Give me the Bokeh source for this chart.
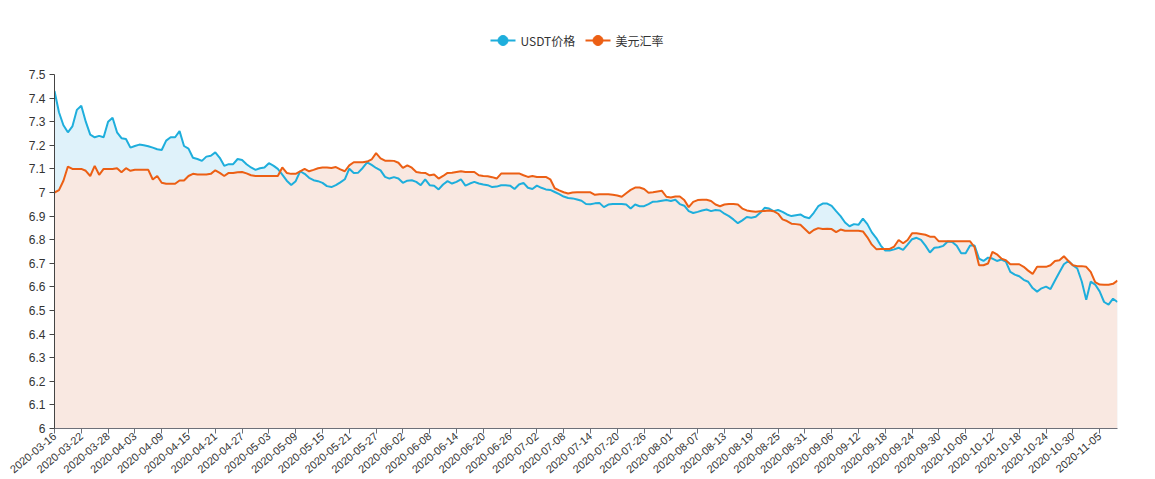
import pandas as pd
from bokeh.plotting import figure
from bokeh.layouts import column
from bokeh.models import (Range1d, FixedTicker, NumeralTickFormatter, ColumnDataSource,
                          CustomJSTickFormatter)
from bokeh.core.properties import value
from bokeh.embed import file_html
from bokeh.resources import INLINE

# ---------------- data ----------------
dates = pd.date_range("2020-03-16", periods=239).strftime("%Y-%m-%d").tolist()

series_names = ["USDT价格", "美元汇率"]

usdt = [
    7.43, 7.34, 7.285, 7.255, 7.28, 7.35, 7.368, 7.30, 7.245, 7.234,
    7.24, 7.234, 7.30, 7.317, 7.255, 7.23, 7.227, 7.19, 7.197, 7.203,
    7.20, 7.196, 7.19, 7.183, 7.18, 7.22, 7.234, 7.234, 7.26, 7.197,
    7.186, 7.147, 7.142, 7.134, 7.152, 7.156, 7.17, 7.147, 7.113, 7.12,
    7.12, 7.142, 7.138, 7.12, 7.106, 7.096, 7.103, 7.106, 7.124, 7.114,
    7.10, 7.076, 7.05, 7.032, 7.048, 7.09, 7.079, 7.062, 7.052, 7.048,
    7.041, 7.027,
    7.023, 7.031, 7.043, 7.056, 7.101, 7.083, 7.084, 7.104,
    7.128, 7.117, 7.104, 7.094, 7.066, 7.059, 7.065, 7.059, 7.041, 7.05,
    7.052, 7.045, 7.031, 7.056, 7.031, 7.029, 7.013, 7.034, 7.048, 7.038,
    7.045, 7.056, 7.029, 7.038, 7.045, 7.038, 7.034, 7.031, 7.023, 7.025,
    7.031, 7.031, 7.029, 7.015, 7.034, 7.041, 7.02, 7.015, 7.029, 7.02,
    7.013, 7.011, 7.002, 6.993, 6.983, 6.977, 6.975, 6.97, 6.965, 6.951,
    6.95, 6.954,
    6.956, 6.938, 6.949, 6.951, 6.951, 6.951, 6.949, 6.932,
    6.949, 6.942, 6.942, 6.951, 6.961, 6.962, 6.965, 6.968, 6.964, 6.969,
    6.951, 6.944, 6.921, 6.913, 6.918, 6.924, 6.928, 6.921, 6.926, 6.924,
    6.91, 6.9, 6.886, 6.87, 6.882, 6.896, 6.893, 6.897, 6.914, 6.935,
    6.932, 6.921, 6.926, 6.918, 6.907, 6.9, 6.904, 6.907, 6.896, 6.891,
    6.914, 6.942, 6.953, 6.953, 6.943, 6.921, 6.9, 6.873, 6.857, 6.866,
    6.863, 6.889, 6.866,
    6.831, 6.807, 6.775, 6.754, 6.754, 6.759, 6.766,
    6.757, 6.779, 6.802, 6.808, 6.799, 6.775, 6.746, 6.766, 6.768, 6.774,
    6.792, 6.79, 6.774, 6.743, 6.743, 6.775, 6.775, 6.72, 6.71, 6.724,
    6.72, 6.71, 6.716, 6.707, 6.664, 6.652, 6.645, 6.63, 6.622, 6.595,
    6.58, 6.594, 6.601, 6.591, 6.627, 6.662, 6.696, 6.71, 6.692, 6.678,
    6.623, 6.545, 6.622, 6.61, 6.581, 6.536, 6.525, 6.55, 6.536,
]

usd = [
    7.0, 7.01, 7.05, 7.11, 7.10, 7.10, 7.10, 7.092, 7.07, 7.113,
    7.075, 7.10, 7.10, 7.10, 7.103, 7.086, 7.103, 7.092, 7.096, 7.096,
    7.096, 7.096, 7.055, 7.07, 7.041, 7.037, 7.037, 7.037, 7.051, 7.051,
    7.07, 7.079, 7.076, 7.076, 7.076, 7.079, 7.094, 7.083, 7.07, 7.083,
    7.083, 7.086, 7.087, 7.081, 7.073, 7.07, 7.07, 7.07, 7.07, 7.07,
    7.07, 7.106, 7.083, 7.079, 7.079, 7.09, 7.10, 7.09, 7.096, 7.103,
    7.106, 7.106,
    7.104, 7.108, 7.098, 7.09, 7.115, 7.128, 7.128, 7.128,
    7.131, 7.14, 7.167, 7.145, 7.135, 7.135, 7.134, 7.126, 7.104, 7.115,
    7.105, 7.087, 7.084, 7.083, 7.073, 7.076, 7.059, 7.07, 7.083, 7.084,
    7.087, 7.09, 7.087, 7.087, 7.087, 7.073, 7.07, 7.069, 7.065, 7.059,
    7.08, 7.08, 7.08, 7.08, 7.081, 7.073, 7.066, 7.07, 7.066, 7.066,
    7.066, 7.056, 7.018, 7.009, 7.001, 6.996, 7.0, 7.001, 7.001, 7.001,
    7.001, 6.99,
    6.993, 6.993, 6.993, 6.99, 6.987, 6.982, 6.997, 7.011,
    7.021, 7.021, 7.015, 6.999, 7.001, 7.004, 7.007, 6.982, 6.979, 6.983,
    6.983, 6.968, 6.938, 6.96, 6.968, 6.969, 6.969, 6.964, 6.949, 6.942,
    6.949, 6.951, 6.951, 6.949, 6.932, 6.924, 6.921, 6.918, 6.921, 6.922,
    6.924, 6.921, 6.91, 6.886, 6.879, 6.868, 6.866, 6.863, 6.845, 6.827,
    6.841, 6.849, 6.845, 6.846, 6.845, 6.832, 6.843, 6.838, 6.838, 6.838,
    6.838, 6.835, 6.81,
    6.779, 6.76, 6.761, 6.761, 6.761, 6.771, 6.799,
    6.785, 6.799, 6.827, 6.827, 6.824, 6.821, 6.813, 6.813, 6.793, 6.793,
    6.793, 6.793, 6.793, 6.793, 6.793, 6.793, 6.768, 6.692, 6.692, 6.699,
    6.748, 6.738, 6.72, 6.713, 6.696, 6.696, 6.696, 6.685, 6.669, 6.655,
    6.685, 6.685, 6.685, 6.692, 6.71, 6.713, 6.73, 6.71, 6.692, 6.688,
    6.688, 6.685, 6.664, 6.62, 6.61, 6.609, 6.609, 6.613, 6.627,
]

y_ticks = [6.0, 6.1, 6.2, 6.3, 6.4, 6.5, 6.6, 6.7, 6.8, 6.9,
           7.0, 7.1, 7.2, 7.3, 7.4, 7.5]
tick_idx = list(range(0, len(dates), 6))
tick_labels = [dates[i] for i in tick_idx]

# ---------------- styles ----------------
BLUE = "#1eaedc"
ORANGE = "#ec5f14"
BLUE_AREA = "#dff2fa"
ORANGE_AREA = "#f9e8e1"
AXIS = "#444444"
FONT = "Liberation Sans"
CJK = "Noto Sans CJK SC"

W = 1150
LEG_H = 60
MAIN_H = 419
FRAME_L, FRAME_R = 54, 1117

# ---------------- legend strip (separate figure, frame aligned with chart) ----
leg = figure(width=W, height=LEG_H, output_backend="svg", toolbar_location=None,
             x_range=Range1d(FRAME_L, FRAME_R), y_range=Range1d(0, LEG_H),
             min_border=0, x_axis_type=None, y_axis_type=None)
leg.outline_line_color = None
leg.grid.visible = False
leg_y = LEG_H - 40          # legend centre line (px from bottom)
icon_w = 25
starts = [490, 585]
colors = [BLUE, ORANGE]
for name, x0, c in zip(series_names, starts, colors):
    leg.line(x=[x0, x0 + icon_w], y=[leg_y, leg_y], line_color=c, line_width=2)
    leg.scatter(x=[x0 + icon_w / 2], y=[leg_y], size=10, fill_color=c, line_color=c)
    leg.text(x=[x0 + icon_w + 5], y=[leg_y], text=[name],
             text_font=value(CJK), text_font_size="12px", text_color="#333333",
             text_baseline="middle", text_align="left")

# ---------------- main chart ----------------
n = len(dates)
xs = list(range(n))
src = ColumnDataSource(dict(x=xs, usdt=usdt, usd=usd, base=[6.0] * n))

p = figure(width=W, height=MAIN_H, output_backend="svg", toolbar_location=None,
           x_range=Range1d(0, n - 1), y_range=Range1d(6, 7.5),
           min_border_left=FRAME_L, min_border_right=W - FRAME_R,
           min_border_top=74 - LEG_H, min_border_bottom=30)
p.outline_line_color = None
p.xgrid.visible = False
p.ygrid.visible = False

p.varea(x="x", y1="base", y2="usdt", fill_color=BLUE_AREA, source=src)
p.varea(x="x", y1="base", y2="usd", fill_color=ORANGE_AREA, source=src)
p.line(x="x", y="usdt", line_color=BLUE, line_width=2, source=src)
p.line(x="x", y="usd", line_color=ORANGE, line_width=2, source=src)

# y axis
p.yaxis.ticker = FixedTicker(ticks=y_ticks)
p.yaxis.formatter = NumeralTickFormatter(format="0.[0]")
p.yaxis.axis_line_color = AXIS
p.yaxis.major_tick_line_color = AXIS
p.yaxis.major_tick_out = 5
p.yaxis.major_tick_in = 0
p.yaxis.minor_tick_line_color = None
p.yaxis.major_label_text_font = FONT
p.yaxis.major_label_text_font_size = "12px"
p.yaxis.major_label_text_color = "#333333"
p.yaxis.major_label_standoff = 4

# x axis with rotated date labels
p.xaxis.ticker = FixedTicker(ticks=tick_idx)
p.xaxis.formatter = CustomJSTickFormatter(
    args=dict(idx=tick_idx, labels=tick_labels),
    code="const k = idx.indexOf(Math.round(tick)); return k >= 0 ? labels[k] : '';")
p.xaxis.major_label_orientation = 0.698
p.xaxis.axis_line_color = "#6e7079"
p.xaxis.major_tick_line_color = "#6e7079"
p.xaxis.major_tick_out = 5
p.xaxis.major_tick_in = 0
p.xaxis.minor_tick_line_color = None
p.xaxis.major_label_text_font = FONT
p.xaxis.major_label_text_font_size = "11px"
p.xaxis.major_label_text_color = "#333333"
p.xaxis.major_label_standoff = 1

layout = column(leg, p, spacing=0)
open("out.html", "w").write(file_html(layout, INLINE))
